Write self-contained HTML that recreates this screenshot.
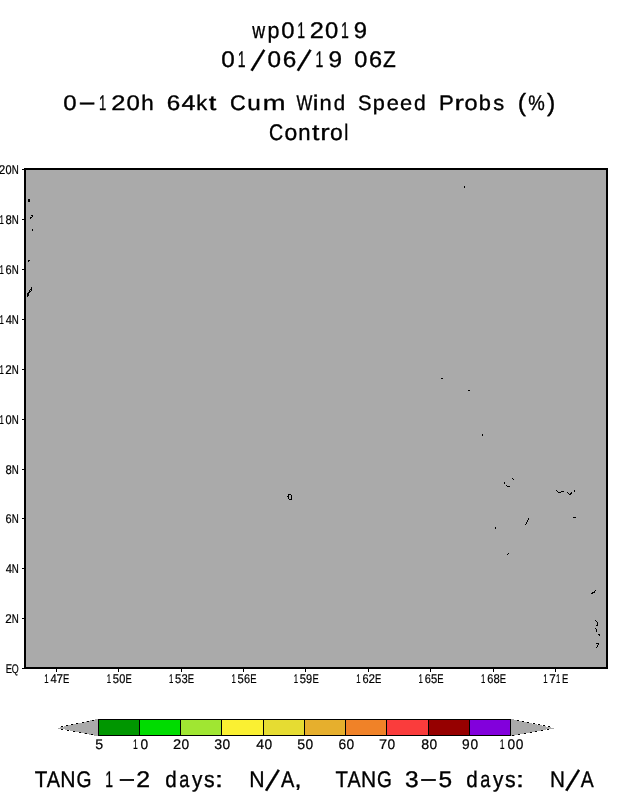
<!DOCTYPE html>
<html lang="en">
<head>
<meta charset="utf-8">
<title>wp012019 0-120h 64kt Cum Wind Speed Probs</title>
<style>
html,body{margin:0;padding:0;background:#fff;}
body{width:618px;height:800px;overflow:hidden;}
svg{display:block;}
svg text{font-family:"Liberation Sans",sans-serif;fill:#000;text-rendering:geometricPrecision;}
svg text{stroke:#000;stroke-width:0.22px;}
svg text.b{stroke-width:0.35px;}
</style>
</head>
<body>
<svg width="618" height="800" viewBox="0 0 618 800">
<rect x="0" y="0" width="618" height="800" fill="#fff"/>
<!-- map frame -->
<g shape-rendering="crispEdges">
<rect x="24" y="168" width="584" height="501" fill="#000"/>
<rect x="26" y="170" width="580" height="497" fill="#aaaaaa"/>
<rect x="56" y="669" width="1" height="3" fill="#000"/><rect x="118" y="669" width="1" height="3" fill="#000"/><rect x="181" y="669" width="1" height="3" fill="#000"/><rect x="243" y="669" width="1" height="3" fill="#000"/><rect x="305" y="669" width="1" height="3" fill="#000"/><rect x="368" y="669" width="1" height="3" fill="#000"/><rect x="430" y="669" width="1" height="3" fill="#000"/><rect x="493" y="669" width="1" height="3" fill="#000"/><rect x="555" y="669" width="1" height="3" fill="#000"/>
<rect x="22" y="169" width="3" height="1" fill="#000"/><rect x="22" y="219" width="3" height="1" fill="#000"/><rect x="22" y="269" width="3" height="1" fill="#000"/><rect x="22" y="319" width="3" height="1" fill="#000"/><rect x="22" y="369" width="3" height="1" fill="#000"/><rect x="22" y="419" width="3" height="1" fill="#000"/><rect x="22" y="469" width="3" height="1" fill="#000"/><rect x="22" y="518" width="3" height="1" fill="#000"/><rect x="22" y="568" width="3" height="1" fill="#000"/><rect x="22" y="618" width="3" height="1" fill="#000"/><rect x="22" y="668" width="3" height="1" fill="#000"/>
</g>
<!-- coastlines -->
<g shape-rendering="crispEdges"><g fill="#000"><rect x="28" y="199" width="2" height="3"/><rect x="31" y="215" width="2" height="1"/><rect x="32" y="216" width="1" height="1"/><rect x="31" y="217" width="1" height="1"/><rect x="30" y="217" width="1" height="1"/><rect x="30" y="218" width="1" height="1"/><rect x="32" y="229" width="1" height="2"/><rect x="28" y="260" width="2" height="1"/><rect x="28" y="261" width="1" height="1"/><rect x="27" y="293" width="1" height="4"/><rect x="28" y="292" width="1" height="4"/><rect x="29" y="290" width="1" height="3"/><rect x="30" y="289" width="1" height="1"/><rect x="30" y="291" width="1" height="1"/><rect x="31" y="287" width="1" height="4"/><rect x="464" y="186" width="1" height="2"/><rect x="441" y="378" width="2" height="1"/><rect x="468" y="390" width="2" height="1"/><rect x="482" y="434" width="1" height="2"/><rect x="495" y="527" width="1" height="2"/><rect x="507" y="554" width="1" height="1"/><rect x="508" y="553" width="1" height="1"/><rect x="573" y="517" width="3" height="1"/><rect x="288" y="494" width="3" height="1"/><rect x="288" y="494" width="1" height="5"/><rect x="287" y="496" width="1" height="1"/><rect x="291" y="495" width="1" height="5"/><rect x="289" y="499" width="2" height="1"/><rect x="595" y="590" width="1" height="1"/><rect x="594" y="591" width="1" height="1"/><rect x="592" y="592" width="3" height="1"/><rect x="591" y="593" width="2" height="1"/><rect x="595" y="620" width="1" height="1"/><rect x="596" y="621" width="1" height="1"/><rect x="597" y="622" width="1" height="3"/><rect x="596" y="625" width="2" height="1"/><rect x="595" y="628" width="1" height="1"/><rect x="596" y="629" width="1" height="3"/><rect x="598" y="634" width="2" height="1"/><rect x="599" y="635" width="1" height="1"/><rect x="596" y="643" width="3" height="1"/><rect x="598" y="644" width="1" height="1"/><rect x="597" y="645" width="1" height="2"/><rect x="596" y="647" width="1" height="1"/><rect x="528" y="518" width="1" height="2"/><rect x="527" y="520" width="1" height="2"/><rect x="526" y="522" width="1" height="2"/><rect x="525" y="524" width="1" height="1"/><rect x="504" y="482" width="1" height="2"/><rect x="506" y="485" width="1" height="1"/><rect x="507" y="486" width="3" height="1"/><rect x="512" y="478" width="1" height="1"/><rect x="513" y="479" width="1" height="1"/><rect x="556" y="490" width="1" height="1"/><rect x="557" y="491" width="1" height="1"/><rect x="558" y="492" width="3" height="1"/><rect x="561" y="491" width="3" height="1"/><rect x="567" y="492" width="1" height="1"/><rect x="568" y="493" width="1" height="1"/><rect x="569" y="494" width="2" height="1"/><rect x="570" y="493" width="2" height="1"/><rect x="571" y="492" width="1" height="1"/><rect x="574" y="490" width="1" height="2"/></g></g>
<!-- colour bar -->
<g shape-rendering="crispEdges">
<polygon points="57.5,728 98,718.8 98,736.4" fill="#aaaaaa"/>
<polygon points="553.5,728 510.5,718.8 510.5,736.4" fill="#aaaaaa"/><rect x="57.5" y="727.5" width="4" height="1" fill="#aaaaaa"/><rect x="550" y="727.5" width="4" height="1" fill="#aaaaaa"/>
<g fill="#000"><rect x="61" y="726" width="2" height="1"/><rect x="66" y="725" width="2" height="1"/><rect x="71" y="724" width="2" height="1"/><rect x="76" y="723" width="2" height="1"/><rect x="82" y="722" width="2" height="1"/><rect x="87" y="721" width="2" height="1"/><rect x="92" y="720" width="2" height="1"/><rect x="61" y="729" width="2" height="1"/><rect x="67" y="730" width="2" height="1"/><rect x="73" y="731" width="2" height="1"/><rect x="79" y="732" width="2" height="1"/><rect x="85" y="733" width="2" height="1"/><rect x="91" y="734" width="2" height="1"/><rect x="517" y="720" width="2" height="1"/><rect x="522" y="721" width="2" height="1"/><rect x="527" y="722" width="2" height="1"/><rect x="533" y="723" width="2" height="1"/><rect x="538" y="724" width="2" height="1"/><rect x="543" y="725" width="2" height="1"/><rect x="548" y="726" width="2" height="1"/><rect x="512" y="735" width="2" height="1"/><rect x="518" y="734" width="2" height="1"/><rect x="524" y="733" width="2" height="1"/><rect x="530" y="732" width="2" height="1"/><rect x="535" y="731" width="2" height="1"/><rect x="541" y="730" width="2" height="1"/><rect x="547" y="729" width="2" height="1"/></g>
<rect x="98" y="719" width="413" height="17" fill="#000"/>
<rect x="98" y="720" width="41" height="15" fill="#009600"/><rect x="139" y="720" width="41" height="15" fill="#00dc00"/><rect x="180" y="720" width="41" height="15" fill="#a0e632"/><rect x="221" y="720" width="42" height="15" fill="#faf032"/><rect x="263" y="720" width="41" height="15" fill="#e6dc32"/><rect x="304" y="720" width="41" height="15" fill="#e6af2d"/><rect x="345" y="720" width="41" height="15" fill="#f08228"/><rect x="386" y="720" width="42" height="15" fill="#fa3c3c"/><rect x="428" y="720" width="41" height="15" fill="#960000"/><rect x="469" y="720" width="41" height="15" fill="#8200dc"/>
<rect x="98" y="719" width="1" height="17" fill="#000"/><rect x="139" y="719" width="1" height="17" fill="#000"/><rect x="180" y="719" width="1" height="17" fill="#000"/><rect x="221" y="719" width="1" height="17" fill="#000"/><rect x="263" y="719" width="1" height="17" fill="#000"/><rect x="304" y="719" width="1" height="17" fill="#000"/><rect x="345" y="719" width="1" height="17" fill="#000"/><rect x="386" y="719" width="1" height="17" fill="#000"/><rect x="428" y="719" width="1" height="17" fill="#000"/><rect x="469" y="719" width="1" height="17" fill="#000"/><rect x="510" y="719" width="1" height="17" fill="#000"/>
</g>
<!-- labels -->
<g>
<text y="38" font-size="22.6" class="b"><tspan x="252.28" textLength="12.87" lengthAdjust="spacingAndGlyphs">w</tspan><tspan x="267.43" textLength="11.93" lengthAdjust="spacingAndGlyphs">p</tspan><tspan x="281.15" textLength="13.25" lengthAdjust="spacingAndGlyphs">0</tspan><tspan x="297.29" textLength="7.79" lengthAdjust="spacingAndGlyphs">1</tspan><tspan x="309.88" textLength="14.13" lengthAdjust="spacingAndGlyphs">2</tspan><tspan x="324.91" textLength="13.25" lengthAdjust="spacingAndGlyphs">0</tspan><tspan x="341.05" textLength="7.79" lengthAdjust="spacingAndGlyphs">1</tspan><tspan x="353.70" textLength="13.26" lengthAdjust="spacingAndGlyphs">9</tspan></text>
<text y="67" font-size="22.6" class="b"><tspan x="221.24" textLength="13.53" lengthAdjust="spacingAndGlyphs">0</tspan><tspan x="237.85" textLength="7.79" lengthAdjust="spacingAndGlyphs">1</tspan><tspan x="250.64" y="69.7" font-size="34.4" rotate="23" textLength="7.44" lengthAdjust="spacingAndGlyphs">/</tspan><tspan x="267.56" y="67" textLength="13.53" lengthAdjust="spacingAndGlyphs">0</tspan><tspan x="282.87" textLength="13.54" lengthAdjust="spacingAndGlyphs">6</tspan><tspan x="296.96" y="69.7" font-size="34.4" rotate="23" textLength="7.44" lengthAdjust="spacingAndGlyphs">/</tspan><tspan x="315.55" y="67" textLength="7.79" lengthAdjust="spacingAndGlyphs">1</tspan><tspan x="328.45" textLength="13.54" lengthAdjust="spacingAndGlyphs">9</tspan> <tspan x="354.27" textLength="13.08" lengthAdjust="spacingAndGlyphs">0</tspan><tspan x="368.98" textLength="13.10" lengthAdjust="spacingAndGlyphs">6</tspan><tspan x="383.09" textLength="12.77" lengthAdjust="spacingAndGlyphs">Z</tspan></text>
<text y="110" font-size="21.0" class="b"><tspan x="63.25" textLength="13.35" lengthAdjust="spacingAndGlyphs">0</tspan><tspan x="77.69" y="108.7" textLength="18.73" lengthAdjust="spacingAndGlyphs">-</tspan><tspan x="98.97" y="110" textLength="7.24" lengthAdjust="spacingAndGlyphs">1</tspan><tspan x="111.35" textLength="14.24" lengthAdjust="spacingAndGlyphs">2</tspan><tspan x="126.51" textLength="13.35" lengthAdjust="spacingAndGlyphs">0</tspan><tspan x="141.31" textLength="12.45" lengthAdjust="spacingAndGlyphs">h</tspan> <tspan x="166.66" textLength="13.50" lengthAdjust="spacingAndGlyphs">6</tspan><tspan x="181.55" textLength="13.88" lengthAdjust="spacingAndGlyphs">4</tspan><tspan x="196.21" textLength="10.91" lengthAdjust="spacingAndGlyphs">k</tspan><tspan x="208.74" textLength="7.56" lengthAdjust="spacingAndGlyphs">t</tspan> <tspan x="229.98" textLength="15.69" lengthAdjust="spacingAndGlyphs">C</tspan><tspan x="247.39" textLength="13.55" lengthAdjust="spacingAndGlyphs">u</tspan><tspan x="262.68" textLength="22.73" lengthAdjust="spacingAndGlyphs">m</tspan> <tspan x="296.50" textLength="15.86" lengthAdjust="spacingAndGlyphs">W</tspan><tspan x="312.78" textLength="5.72" lengthAdjust="spacingAndGlyphs">i</tspan><tspan x="319.46" textLength="12.17" lengthAdjust="spacingAndGlyphs">n</tspan><tspan x="333.79" textLength="11.36" lengthAdjust="spacingAndGlyphs">d</tspan> <tspan x="357.97" textLength="13.53" lengthAdjust="spacingAndGlyphs">S</tspan><tspan x="372.76" textLength="12.06" lengthAdjust="spacingAndGlyphs">p</tspan><tspan x="386.74" textLength="12.14" lengthAdjust="spacingAndGlyphs">e</tspan><tspan x="400.05" textLength="12.14" lengthAdjust="spacingAndGlyphs">e</tspan><tspan x="414.11" textLength="11.66" lengthAdjust="spacingAndGlyphs">d</tspan> <tspan x="438.97" textLength="14.78" lengthAdjust="spacingAndGlyphs">P</tspan><tspan x="454.61" textLength="9.44" lengthAdjust="spacingAndGlyphs">r</tspan><tspan x="464.52" textLength="13.06" lengthAdjust="spacingAndGlyphs">o</tspan><tspan x="478.76" textLength="12.13" lengthAdjust="spacingAndGlyphs">b</tspan><tspan x="493.18" textLength="10.91" lengthAdjust="spacingAndGlyphs">s</tspan> <tspan x="517.73" y="110.6" font-size="24.8" textLength="8.32" lengthAdjust="spacingAndGlyphs">(</tspan><tspan x="528.22" y="110" textLength="16.54" lengthAdjust="spacingAndGlyphs">%</tspan><tspan x="547.07" y="110.6" font-size="24.8" textLength="8.32" lengthAdjust="spacingAndGlyphs">)</tspan></text>
<text y="140" font-size="22.6" class="b"><tspan x="269.08" textLength="14.16" lengthAdjust="spacingAndGlyphs">C</tspan><tspan x="284.49" textLength="12.76" lengthAdjust="spacingAndGlyphs">o</tspan><tspan x="298.30" textLength="12.29" lengthAdjust="spacingAndGlyphs">n</tspan><tspan x="311.99" textLength="7.40" lengthAdjust="spacingAndGlyphs">t</tspan><tspan x="320.37" textLength="9.39" lengthAdjust="spacingAndGlyphs">r</tspan><tspan x="330.10" textLength="12.76" lengthAdjust="spacingAndGlyphs">o</tspan><tspan x="344.17" textLength="4.03" lengthAdjust="spacingAndGlyphs">l</tspan></text>
<text y="787" font-size="22.6" class="b"><tspan x="34.68" textLength="12.60" lengthAdjust="spacingAndGlyphs">T</tspan><tspan x="46.68" textLength="13.28" lengthAdjust="spacingAndGlyphs">A</tspan><tspan x="60.36" textLength="15.31" lengthAdjust="spacingAndGlyphs">N</tspan><tspan x="76.44" textLength="15.00" lengthAdjust="spacingAndGlyphs">G</tspan> <tspan x="105.28" textLength="7.79" lengthAdjust="spacingAndGlyphs">1</tspan><tspan x="117.81" y="785.6" textLength="18.20" lengthAdjust="spacingAndGlyphs">-</tspan><tspan x="136.16" y="787" textLength="13.85" lengthAdjust="spacingAndGlyphs">2</tspan> <tspan x="165.36" textLength="11.44" lengthAdjust="spacingAndGlyphs">d</tspan><tspan x="179.15" textLength="10.09" lengthAdjust="spacingAndGlyphs">a</tspan><tspan x="191.99" textLength="10.36" lengthAdjust="spacingAndGlyphs">y</tspan><tspan x="203.93" textLength="10.64" lengthAdjust="spacingAndGlyphs">s</tspan><tspan x="215.01" textLength="7.99" lengthAdjust="spacingAndGlyphs">:</tspan>  <tspan x="249.34" textLength="15.35" lengthAdjust="spacingAndGlyphs">N</tspan><tspan x="265.16" y="789.7" font-size="34.4" rotate="23" textLength="7.44" lengthAdjust="spacingAndGlyphs">/</tspan><tspan x="281.05" y="787" textLength="13.33" lengthAdjust="spacingAndGlyphs">A</tspan><tspan x="294.46" textLength="7.04" lengthAdjust="spacingAndGlyphs">,</tspan>   <tspan x="335.58" textLength="12.47" lengthAdjust="spacingAndGlyphs">T</tspan><tspan x="347.45" textLength="13.15" lengthAdjust="spacingAndGlyphs">A</tspan><tspan x="360.97" textLength="15.16" lengthAdjust="spacingAndGlyphs">N</tspan><tspan x="376.88" textLength="14.85" lengthAdjust="spacingAndGlyphs">G</tspan> <tspan x="405.03" textLength="13.63" lengthAdjust="spacingAndGlyphs">3</tspan><tspan x="419.32" y="785.6" textLength="18.53" lengthAdjust="spacingAndGlyphs">-</tspan><tspan x="438.46" y="787" textLength="13.63" lengthAdjust="spacingAndGlyphs">5</tspan> <tspan x="466.36" textLength="11.44" lengthAdjust="spacingAndGlyphs">d</tspan><tspan x="480.15" textLength="10.09" lengthAdjust="spacingAndGlyphs">a</tspan><tspan x="492.99" textLength="10.36" lengthAdjust="spacingAndGlyphs">y</tspan><tspan x="504.93" textLength="10.64" lengthAdjust="spacingAndGlyphs">s</tspan><tspan x="516.01" textLength="7.99" lengthAdjust="spacingAndGlyphs">:</tspan>  <tspan x="550.08" textLength="14.95" lengthAdjust="spacingAndGlyphs">N</tspan><tspan x="565.41" y="789.7" font-size="34.4" rotate="23" textLength="7.44" lengthAdjust="spacingAndGlyphs">/</tspan><tspan x="580.83" y="787" textLength="12.97" lengthAdjust="spacingAndGlyphs">A</tspan></text>
<text y="174" font-size="12.6"><tspan x="-1.13" textLength="6.50" lengthAdjust="spacingAndGlyphs">2</tspan><tspan x="5.48" textLength="6.10" lengthAdjust="spacingAndGlyphs">0</tspan><tspan x="11.78" textLength="7.04" lengthAdjust="spacingAndGlyphs">N</tspan></text>
<text y="224" font-size="12.6"><tspan x="-0.58" textLength="4.34" lengthAdjust="spacingAndGlyphs">1</tspan><tspan x="5.47" textLength="6.29" lengthAdjust="spacingAndGlyphs">8</tspan><tspan x="11.78" textLength="7.04" lengthAdjust="spacingAndGlyphs">N</tspan></text>
<text y="274" font-size="12.6"><tspan x="-0.58" textLength="4.34" lengthAdjust="spacingAndGlyphs">1</tspan><tspan x="5.62" textLength="6.12" lengthAdjust="spacingAndGlyphs">6</tspan><tspan x="11.78" textLength="7.04" lengthAdjust="spacingAndGlyphs">N</tspan></text>
<text y="324" font-size="12.6"><tspan x="-0.58" textLength="4.34" lengthAdjust="spacingAndGlyphs">1</tspan><tspan x="5.64" textLength="6.26" lengthAdjust="spacingAndGlyphs">4</tspan><tspan x="11.78" textLength="7.04" lengthAdjust="spacingAndGlyphs">N</tspan></text>
<text y="374" font-size="12.6"><tspan x="-0.58" textLength="4.34" lengthAdjust="spacingAndGlyphs">1</tspan><tspan x="5.27" textLength="6.50" lengthAdjust="spacingAndGlyphs">2</tspan><tspan x="11.78" textLength="7.04" lengthAdjust="spacingAndGlyphs">N</tspan></text>
<text y="424" font-size="12.6"><tspan x="-0.58" textLength="4.34" lengthAdjust="spacingAndGlyphs">1</tspan><tspan x="5.48" textLength="6.10" lengthAdjust="spacingAndGlyphs">0</tspan><tspan x="11.78" textLength="7.04" lengthAdjust="spacingAndGlyphs">N</tspan></text>
<text y="474" font-size="12.6"><tspan x="5.47" textLength="6.29" lengthAdjust="spacingAndGlyphs">8</tspan><tspan x="11.78" textLength="7.04" lengthAdjust="spacingAndGlyphs">N</tspan></text>
<text y="523" font-size="12.6"><tspan x="5.62" textLength="6.12" lengthAdjust="spacingAndGlyphs">6</tspan><tspan x="11.78" textLength="7.04" lengthAdjust="spacingAndGlyphs">N</tspan></text>
<text y="573" font-size="12.6"><tspan x="5.64" textLength="6.26" lengthAdjust="spacingAndGlyphs">4</tspan><tspan x="11.78" textLength="7.04" lengthAdjust="spacingAndGlyphs">N</tspan></text>
<text y="623" font-size="12.6"><tspan x="5.27" textLength="6.50" lengthAdjust="spacingAndGlyphs">2</tspan><tspan x="11.78" textLength="7.04" lengthAdjust="spacingAndGlyphs">N</tspan></text>
<text y="673" font-size="12.6"><tspan x="5.72" textLength="6.29" lengthAdjust="spacingAndGlyphs">E</tspan><tspan x="11.80" textLength="6.92" lengthAdjust="spacingAndGlyphs">Q</tspan></text>
<text y="683" font-size="12.6"><tspan x="44.32" textLength="4.34" lengthAdjust="spacingAndGlyphs">1</tspan><tspan x="50.54" textLength="6.26" lengthAdjust="spacingAndGlyphs">4</tspan><tspan x="56.57" textLength="6.50" lengthAdjust="spacingAndGlyphs">7</tspan><tspan x="63.10" textLength="6.29" lengthAdjust="spacingAndGlyphs">E</tspan></text>
<text y="683" font-size="12.6"><tspan x="106.70" textLength="4.34" lengthAdjust="spacingAndGlyphs">1</tspan><tspan x="112.74" textLength="6.29" lengthAdjust="spacingAndGlyphs">5</tspan><tspan x="119.15" textLength="6.10" lengthAdjust="spacingAndGlyphs">0</tspan><tspan x="125.48" textLength="6.29" lengthAdjust="spacingAndGlyphs">E</tspan></text>
<text y="683" font-size="12.6"><tspan x="169.07" textLength="4.34" lengthAdjust="spacingAndGlyphs">1</tspan><tspan x="175.12" textLength="6.29" lengthAdjust="spacingAndGlyphs">5</tspan><tspan x="181.52" textLength="6.29" lengthAdjust="spacingAndGlyphs">3</tspan><tspan x="187.85" textLength="6.29" lengthAdjust="spacingAndGlyphs">E</tspan></text>
<text y="683" font-size="12.6"><tspan x="231.45" textLength="4.34" lengthAdjust="spacingAndGlyphs">1</tspan><tspan x="237.49" textLength="6.29" lengthAdjust="spacingAndGlyphs">5</tspan><tspan x="244.05" textLength="6.12" lengthAdjust="spacingAndGlyphs">6</tspan><tspan x="250.23" textLength="6.29" lengthAdjust="spacingAndGlyphs">E</tspan></text>
<text y="683" font-size="12.6"><tspan x="293.82" textLength="4.34" lengthAdjust="spacingAndGlyphs">1</tspan><tspan x="299.87" textLength="6.29" lengthAdjust="spacingAndGlyphs">5</tspan><tspan x="306.10" textLength="6.12" lengthAdjust="spacingAndGlyphs">9</tspan><tspan x="312.60" textLength="6.29" lengthAdjust="spacingAndGlyphs">E</tspan></text>
<text y="683" font-size="12.6"><tspan x="356.20" textLength="4.34" lengthAdjust="spacingAndGlyphs">1</tspan><tspan x="362.40" textLength="6.12" lengthAdjust="spacingAndGlyphs">6</tspan><tspan x="368.45" textLength="6.50" lengthAdjust="spacingAndGlyphs">2</tspan><tspan x="374.98" textLength="6.29" lengthAdjust="spacingAndGlyphs">E</tspan></text>
<text y="683" font-size="12.6"><tspan x="418.57" textLength="4.34" lengthAdjust="spacingAndGlyphs">1</tspan><tspan x="424.77" textLength="6.12" lengthAdjust="spacingAndGlyphs">6</tspan><tspan x="431.02" textLength="6.29" lengthAdjust="spacingAndGlyphs">5</tspan><tspan x="437.35" textLength="6.29" lengthAdjust="spacingAndGlyphs">E</tspan></text>
<text y="683" font-size="12.6"><tspan x="480.95" textLength="4.34" lengthAdjust="spacingAndGlyphs">1</tspan><tspan x="487.15" textLength="6.12" lengthAdjust="spacingAndGlyphs">6</tspan><tspan x="493.39" textLength="6.29" lengthAdjust="spacingAndGlyphs">8</tspan><tspan x="499.73" textLength="6.29" lengthAdjust="spacingAndGlyphs">E</tspan></text>
<text y="683" font-size="12.6"><tspan x="543.32" textLength="4.34" lengthAdjust="spacingAndGlyphs">1</tspan><tspan x="549.17" textLength="6.50" lengthAdjust="spacingAndGlyphs">7</tspan><tspan x="556.12" textLength="4.34" lengthAdjust="spacingAndGlyphs">1</tspan><tspan x="562.10" textLength="6.29" lengthAdjust="spacingAndGlyphs">E</tspan></text>
<text y="749" font-size="14.0"><tspan x="95.37" textLength="7.90" lengthAdjust="spacingAndGlyphs">5</tspan></text>
<text y="749" font-size="14.0"><tspan x="132.91" textLength="4.83" lengthAdjust="spacingAndGlyphs">1</tspan><tspan x="140.58" textLength="7.65" lengthAdjust="spacingAndGlyphs">0</tspan></text>
<text y="749" font-size="14.0"><tspan x="172.92" textLength="8.16" lengthAdjust="spacingAndGlyphs">2</tspan><tspan x="181.58" textLength="7.65" lengthAdjust="spacingAndGlyphs">0</tspan></text>
<text y="749" font-size="14.0"><tspan x="214.17" textLength="7.90" lengthAdjust="spacingAndGlyphs">3</tspan><tspan x="222.58" textLength="7.65" lengthAdjust="spacingAndGlyphs">0</tspan></text>
<text y="749" font-size="14.0"><tspan x="256.39" textLength="7.87" lengthAdjust="spacingAndGlyphs">4</tspan><tspan x="264.58" textLength="7.65" lengthAdjust="spacingAndGlyphs">0</tspan></text>
<text y="749" font-size="14.0"><tspan x="297.17" textLength="7.90" lengthAdjust="spacingAndGlyphs">5</tspan><tspan x="305.58" textLength="7.65" lengthAdjust="spacingAndGlyphs">0</tspan></text>
<text y="749" font-size="14.0"><tspan x="338.38" textLength="7.66" lengthAdjust="spacingAndGlyphs">6</tspan><tspan x="346.58" textLength="7.65" lengthAdjust="spacingAndGlyphs">0</tspan></text>
<text y="749" font-size="14.0"><tspan x="378.92" textLength="8.16" lengthAdjust="spacingAndGlyphs">7</tspan><tspan x="387.58" textLength="7.65" lengthAdjust="spacingAndGlyphs">0</tspan></text>
<text y="749" font-size="14.0"><tspan x="421.17" textLength="7.90" lengthAdjust="spacingAndGlyphs">8</tspan><tspan x="429.58" textLength="7.65" lengthAdjust="spacingAndGlyphs">0</tspan></text>
<text y="749" font-size="14.0"><tspan x="461.96" textLength="7.66" lengthAdjust="spacingAndGlyphs">9</tspan><tspan x="470.58" textLength="7.65" lengthAdjust="spacingAndGlyphs">0</tspan></text>
<text y="749" font-size="14.0"><tspan x="499.71" textLength="4.83" lengthAdjust="spacingAndGlyphs">1</tspan><tspan x="507.38" textLength="7.65" lengthAdjust="spacingAndGlyphs">0</tspan><tspan x="515.78" textLength="7.65" lengthAdjust="spacingAndGlyphs">0</tspan></text>
</g>
</svg>
</body>
</html>
